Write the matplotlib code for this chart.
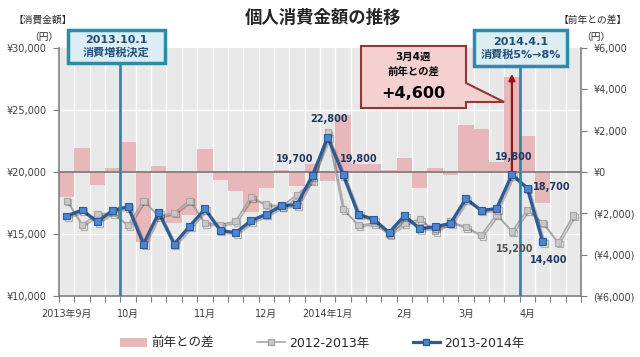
import numpy as np
import matplotlib
matplotlib.use('Agg')
import matplotlib.pyplot as plt
import matplotlib.patches as mpatches
from matplotlib.lines import Line2D
import matplotlib.patheffects as pe

plt.rcParams['font.family'] = ['DejaVu Sans', 'Noto Sans CJK JP']

# ---------------- data ----------------
weeks = list(range(34))
month_pos = [0, 4, 9, 13, 17, 22, 26, 30]
month_labels = ['2013年9月', '10月', '11月', '12月', '2014年1月', '2月', '3月', '4月']

spend_2013_2014 = [16450, 16935, 15990, 16910, 17200, 14190, 16720, 14190, 15620, 17020,
                   15300, 15100, 16075, 16590, 17285, 17365, 19700, 22800, 19800, 16590,
                   16185, 15120, 16470, 15430, 15590, 15860, 17850, 16910, 17045, 19800,
                   18700, 14400]
spend_2012_2013 = [17690, 15730, 16610, 16700, 15700, 17690, 16430, 16720, 17690, 15860,
                   15750, 16020, 17980, 17370, 17250, 18145, 19300, 23200, 17015, 15700,
                   15860, 15000, 15860, 16200, 15250, 16000, 15560, 14900, 16570, 15200,
                   16935, 15915, 14310, 16500]
diff_yoy = [-1190, 1180, -630, 180, 1470, -3370, 290, -2480, -2080, 1100,
            -390, -900, -1950, -780, 100, -700, 380, -420, 2760, 400,
            390, 100, 700, -790, 210, -130, 2270, 2100, 500, 4600,
            1760, -1520]

left_ticks = [10000, 15000, 20000, 25000, 30000]
left_tick_labels = ['¥10,000', '¥15,000', '¥20,000', '¥25,000', '¥30,000']
right_ticks = [-6000, -4000, -2000, 0, 2000, 4000, 6000]
right_tick_labels = ['(¥6,000)', '(¥4,000)', '(¥2,000)', '¥0', '¥2,000', '¥4,000', '¥6,000']

# data labels: (text, x, y, ha, color)
value_labels = [
    ('19,700', 16.1, 21050, 'right', '#1f3864'),
    ('22,800', 17.1, 24270, 'center', '#1f3864'),
    ('19,800', 17.8, 21050, 'left', '#1f3864'),
    ('19,800', 29.15, 21200, 'center', '#1f3864'),
    ('18,700', 30.38, 18790, 'left', '#1f3864'),
    ('15,200', 29.2, 13790, 'center', '#505050'),
    ('14,400', 31.4, 12900, 'center', '#1f3864'),
]

# ---------------- figure ----------------
W, H = 640, 357
fig = plt.figure(figsize=(W / 100, H / 100), dpi=100)
ax = fig.add_axes([59 / W, 61 / H, 522 / W, 248 / H])
ax2 = ax.twinx()

bg = '#e8e8e8'
ax.set_facecolor(bg)
axis_col = '#7f7f7f'
tick_text = '#404040'

# bars (right axis scale)
ax.set_xlim(-0.5, 33.5)
ax.set_ylim(-6000, 6000)
for yv in (-3000, 3000):
    ax.axhline(yv, color='white', lw=1.0, zorder=0.5)
for xb in np.arange(-0.5, 34, 1):
    ax.axvline(xb, color='white', lw=1.0, zorder=0.5)
ax.bar(weeks[:len(diff_yoy)], diff_yoy, width=1.0, color='#e8b7b9', zorder=1)
ax.axhline(0, color=axis_col, lw=1.3, zorder=2)
ax.annotate('', xy=(29, 4750), xytext=(29, 0),
            arrowprops=dict(arrowstyle='-|>', color='#8b1a1a', lw=1.6,
                            mutation_scale=9, shrinkA=0, shrinkB=0), zorder=3)

ax.yaxis.tick_right()
ax.set_yticks(right_ticks)
ax.set_yticklabels(right_tick_labels)
ax.tick_params(axis='y', colors=axis_col, labelcolor=tick_text, labelsize=7,
               length=4, direction='out', pad=5)
ax.set_xticks(np.arange(-0.5, 34, 1))
ax.set_xticklabels([])
ax.set_xticks(month_pos, minor=True)
ax.set_xticklabels(month_labels, minor=True)
ax.tick_params(axis='x', which='major', colors=axis_col, length=4, direction='out')
ax.tick_params(axis='x', which='minor', length=0, labelsize=7, labelcolor=tick_text, pad=9)
for s in ('left', 'right', 'bottom'):
    ax.spines[s].set_color(axis_col)
    ax.spines[s].set_linewidth(1.2)
ax.spines['top'].set_visible(False)

# lines (left axis scale)
ax2.set_ylim(10000, 30000)
ax2.set_xlim(-0.5, 33.5)
ax2.yaxis.tick_left()
ax2.set_yticks(left_ticks)
ax2.set_yticklabels(left_tick_labels)
ax2.tick_params(axis='y', colors=axis_col, labelcolor=tick_text, labelsize=7,
                length=4, direction='out', pad=5)
for s in ax2.spines.values():
    s.set_visible(False)

shadow = [pe.SimpleLineShadow(offset=(1.2, -1.2), shadow_color='black', alpha=0.25), pe.Normal()]
ax2.plot(weeks[:len(spend_2012_2013)], spend_2012_2013, color='#a6a6a6', lw=1.2,
         marker='s', ms=4.5, mfc='#c8c8c8', mec='#a6a6a6', mew=0.8, zorder=3,
         path_effects=shadow)
ax2.plot(weeks[:len(spend_2013_2014)], spend_2013_2014, color='#2e5a96', lw=2.3,
         marker='s', ms=5, mfc='#4a86d2', mec='#2e5a96', mew=0.8, zorder=4,
         path_effects=shadow)

for xv in (3.5, 29.5):
    ax2.axvline(xv, color='#2a8ca6', lw=2.0, zorder=5)

for txt, xv, yv, ha, col in value_labels:
    ax2.text(xv, yv, txt, ha=ha, va='center', fontsize=7, fontweight='bold', color=col, zorder=6)

# ---------------- figure-level annotations ----------------
def fx(x):
    return x / W

def fy(y):
    return 1 - y / H

def frect(x0, y0, x1, y1, **kw):
    r = mpatches.Rectangle((fx(x0), fy(y1)), (x1 - x0) / W, (y1 - y0) / H,
                           transform=fig.transFigure, **kw)
    fig.add_artist(r)

box_txt = '#1f4e79'
frect(68, 30, 165, 63, facecolor='#dceef4', edgecolor='#2a8ca6', lw=2.5, zorder=5)
fig.text(fx(116.5), fy(40), '2013.10.1', ha='center', va='center', fontsize=8,
         fontweight='bold', color=box_txt, zorder=6)
fig.text(fx(116.5), fy(53), '消費増税決定', ha='center', va='center', fontsize=8,
         fontweight='bold', color=box_txt, zorder=6)

frect(474, 30, 567, 66, facecolor='#dceef4', edgecolor='#2a8ca6', lw=2.5, zorder=5)
fig.text(fx(520.5), fy(42), '2014.4.1', ha='center', va='center', fontsize=8,
         fontweight='bold', color=box_txt, zorder=6)
fig.text(fx(520.5), fy(55), '消費税5%→8%', ha='center', va='center', fontsize=8,
         fontweight='bold', color=box_txt, zorder=6)

callout = [(361, 46), (466, 46), (466, 83), (504, 102), (466, 102), (466, 108), (361, 108)]
poly = mpatches.Polygon([(fx(a), fy(b)) for a, b in callout], closed=True,
                        transform=fig.transFigure, facecolor='#f4d0d0',
                        edgecolor='#943634', lw=1.5, zorder=5)
fig.add_artist(poly)
fig.text(fx(413), fy(57), '3月4週', ha='center', va='center', fontsize=7.5,
         fontweight='bold', color='black', zorder=6)
fig.text(fx(413), fy(72), '前年との差', ha='center', va='center', fontsize=7.5,
         fontweight='bold', color='black', zorder=6)
fig.text(fx(413), fy(93), '+4,600', ha='center', va='center', fontsize=11.5,
         fontweight='bold', color='black', zorder=6)

fig.text(fx(323), fy(18), '個人消費金額の推移', ha='center', va='center', fontsize=12.5,
         fontweight='bold', color='#262626')
fig.text(fx(43), fy(20), '【消費金額】', ha='center', va='center', fontsize=7, color='#262626')
fig.text(fx(44), fy(37), '（円）', ha='center', va='center', fontsize=7, color='#262626')
fig.text(fx(593), fy(20), '【前年との差】', ha='center', va='center', fontsize=7, color='#262626')
fig.text(fx(596), fy(37), '（円）', ha='center', va='center', fontsize=7, color='#262626')

handles = [
    mpatches.Patch(facecolor='#e8b7b9', edgecolor='none'),
    Line2D([], [], color='#a6a6a6', lw=1.2, marker='s', ms=4.5, mfc='#c8c8c8', mec='#a6a6a6'),
    Line2D([], [], color='#2e5a96', lw=2.3, marker='s', ms=5, mfc='#4a86d2', mec='#2e5a96'),
]
fig.legend(handles, ['前年との差', '2012-2013年', '2013-2014年'], loc='center',
           bbox_to_anchor=(fx(322), fy(343)), ncol=3, frameon=False, fontsize=9,
           handlelength=2.2, handletextpad=0.3, columnspacing=3.5,
           labelcolor='#262626')

fig.savefig('out.png', dpi=100, facecolor='white')
